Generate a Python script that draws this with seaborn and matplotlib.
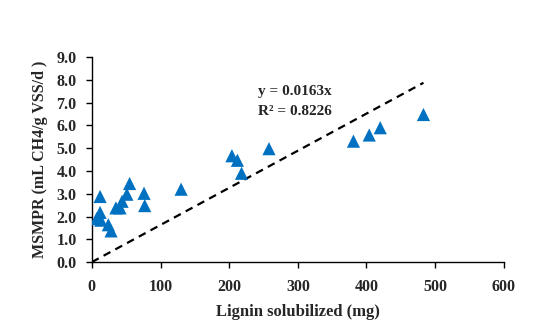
import numpy as np
import pandas as pd
import matplotlib.pyplot as plt
import seaborn as sns

# lignin solubilized (mg) vs MSMPR (mL CH4/g VSS/d)
lignin = [7, 12, 12, 13, 24, 28, 35, 41, 44, 51, 55, 76, 77,
          130, 204, 212, 218, 258, 381, 404, 420, 483]
msmpr = [1.91, 2.88, 2.18, 1.84, 1.64, 1.37, 2.38, 2.38, 2.67, 2.98, 3.45, 3.02, 2.48,
         3.2, 4.67, 4.47, 3.9, 4.98, 5.31, 5.58, 5.9, 6.48]
slope = 0.0163
r2 = 0.8226

df = pd.DataFrame({'lignin': lignin, 'msmpr': msmpr})

sns.set_style('white')
plt.rcParams['font.family'] = ['Liberation Serif', 'DejaVu Serif']
plt.rcParams['font.weight'] = 'bold'

fig = plt.figure(figsize=(5.5, 3.36), dpi=100)
ax = fig.add_axes([0.167, 0.22, 0.749, 0.61])

sns.scatterplot(data=df, x='lignin', y='msmpr', marker='^', color='#0070C0',
                s=90, edgecolor='none', ax=ax, zorder=3)

trend_x = np.array([0, max(lignin)])
ax.plot(trend_x, slope * trend_x, color='black', linestyle=(0, (3.5, 2.5)), lw=1.6)

ax.text(242, 7.5, f'y = {slope}x', fontsize=11, fontweight='bold', va='center')
ax.text(242, 6.6, f'R\u00b2 = {r2}', fontsize=11, fontweight='bold', va='center')

ax.set_xlim(0, 600)
ax.set_ylim(0, 9)
ax.set_xticks(range(0, 601, 100))
ax.set_yticks(np.arange(0, 9.1, 1.0))
ax.set_yticklabels([f'{v:.1f}' for v in np.arange(0, 9.1, 1.0)])
ax.tick_params(axis='both', direction='out', length=4, width=1, color='black',
               labelsize=11.5, bottom=True, left=True)
ax.tick_params(axis='x', pad=8)
ax.tick_params(axis='y', pad=7)
for lbl in ax.get_xticklabels() + ax.get_yticklabels():
    lbl.set_fontweight('bold')

sns.despine(ax=ax)
for sp in ['left', 'bottom']:
    ax.spines[sp].set_color('black')
    ax.spines[sp].set_linewidth(1.0)

ax.set_xlabel('Lignin solubilized (mg)', fontsize=12, fontweight='bold', labelpad=7)
ax.set_ylabel('MSMPR (mL CH4/g VSS/d )', fontsize=11.5, fontweight='bold', labelpad=6)

fig.savefig('out.png', dpi=100)
